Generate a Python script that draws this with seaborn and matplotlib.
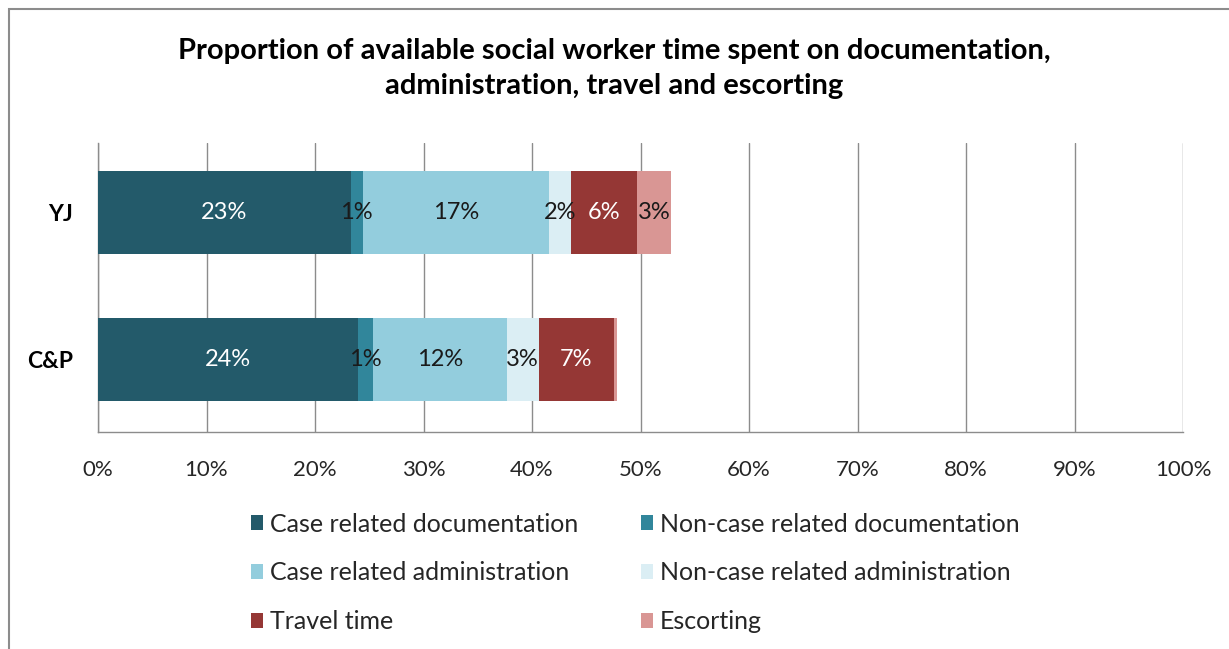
import matplotlib
matplotlib.use("Agg")
import matplotlib.pyplot as plt
import seaborn as sns
import pandas as pd
import numpy as np
from matplotlib.patches import Rectangle, Patch

# ---- data ----
groups = ["YJ", "C&P"]
segments = ["Case related documentation", "Non-case related documentation",
            "Case related administration", "Non-case related administration",
            "Travel time", "Escorting"]
yj_values = [23.3, 1.1, 17.2, 2.0, 6.1, 3.1]
cp_values = [24.0, 1.3, 12.4, 2.9, 7.0, 0.2]
tick_values = [0, 10, 20, 30, 40, 50, 60, 70, 80, 90, 100]
tick_labels = [f"{v}%" for v in tick_values]
colors = ["#235a6a", "#31869b", "#93cddd", "#dbeef4", "#953735", "#d99694"]
label_colors = ["white", "#1a1a1a", "#1a1a1a", "#1a1a1a", "white", "#1a1a1a"]
title = "Proportion of available social worker time spent on documentation,\nadministration, travel and escorting"

sns.set_theme(style="white")
plt.rcParams["font.family"] = ["Lato", "DejaVu Sans"]

fig = plt.figure(figsize=(12.29, 6.49), dpi=100)
ax = fig.add_axes([98/1229, 1 - 432/649, 1085/1229, 289/649])

vals = np.array([yj_values, cp_values])
cum = np.cumsum(vals, axis=1)

# draw cumulative bars from the longest to the shortest so each segment shows
for i in range(len(segments) - 1, -1, -1):
    df = pd.DataFrame({"group": groups, "value": cum[:, i]})
    sns.barplot(data=df, x="value", y="group", orient="h", color=colors[i],
                width=0.565, ax=ax, saturation=1, linewidth=0, zorder=3)

# data labels
for gi in range(len(groups)):
    for si in range(len(segments)):
        v = vals[gi, si]
        if round(v) < 1:
            continue
        center = cum[gi, si] - v / 2
        ax.text(center, gi, f"{round(v)}%", ha="center", va="center",
                fontsize=17, color=label_colors[si], zorder=5)

ax.set_xlim(0, 100)
ax.set_ylim(1.49, -0.476)
ax.set_xticks(tick_values)
ax.set_xticklabels(tick_labels, fontsize=16, color="#262626")
ax.tick_params(axis="x", length=0, pad=20)
ax.tick_params(axis="y", length=0, pad=18)
for lab in ax.get_yticklabels():
    lab.set_fontweight("bold")
    lab.set_fontsize(16.5)
    lab.set_color("#000000")
ax.set_xlabel("")
ax.set_ylabel("")
ax.xaxis.grid(True, color="#8c8c8c", linewidth=1, zorder=0)
ax.set_axisbelow(True)
for side in ["top", "right"]:
    ax.spines[side].set_visible(False)
for side in ["left", "bottom"]:
    ax.spines[side].set_color("#8c8c8c")
    ax.spines[side].set_linewidth(1)

fig.suptitle(title, x=0.5, y=0.941, fontsize=21, fontweight="bold",
             color="#000000", linespacing=1.42)

# legend (column-wise fill -> order handles so rows read pairwise)
order = [0, 2, 4, 1, 3, 5]
handles = [Patch(facecolor=colors[i], edgecolor="none") for i in order]
labels = [segments[i] for i in order]
fig.legend(handles, labels, ncol=2, loc="upper left",
           bbox_to_anchor=(228/1229, 1 - 490/649), frameon=False,
           fontsize=18, handlelength=0.48, handleheight=0.56,
           handletextpad=0.3, columnspacing=2.5, labelspacing=1.03,
           labelcolor="#262626")

# chart border
fig.patches.append(Rectangle((9/1229, -0.1), 1.2, 1 - 9/649 + 0.1,
                             transform=fig.transFigure, fill=False,
                             edgecolor="#8c8c8c", linewidth=1.5))

fig.savefig("out.png", dpi=100)
